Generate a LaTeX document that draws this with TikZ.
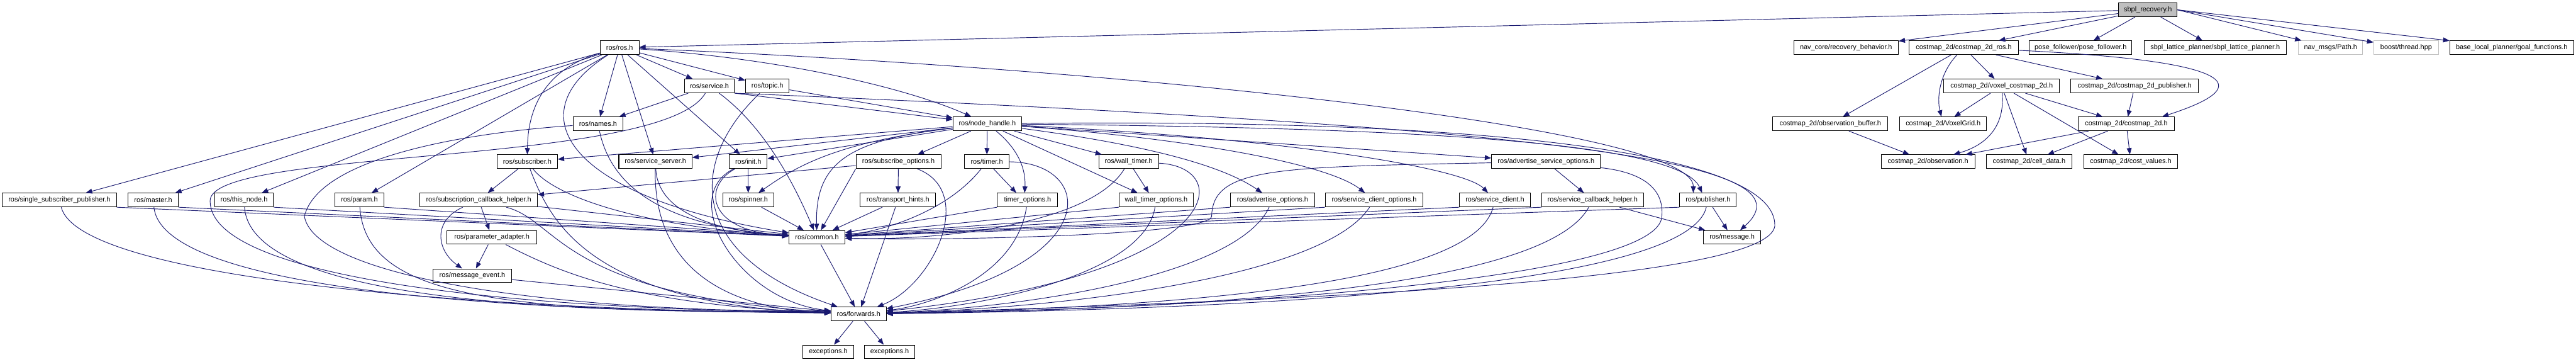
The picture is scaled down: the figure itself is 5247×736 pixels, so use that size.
\documentclass[tikz,border=0pt]{standalone}
\usepackage{fontspec}
\setmainfont{Liberation Sans}
\usetikzlibrary{arrows.meta}
\definecolor{edgec}{HTML}{191970}
\definecolor{rootfill}{HTML}{BFBFBF}
\definecolor{lightb}{HTML}{BFBFBF}
\begin{document}
\begin{tikzpicture}[x=1pt,y=1pt,
  box/.style={draw=black,line width=1.3pt,fill=white,minimum height=28pt,inner sep=0pt,font=\fontsize{14}{16}\selectfont},
  gbox/.style={box,draw=lightb},
  rootbox/.style={box,fill=rootfill},
  e/.style={draw=edgec,line width=1.2pt,-{Triangle[length=13pt,width=10pt]}}]
\useasboundingbox (0,0) rectangle (5247,-736);
\fill[white] (0,0) rectangle (5247,-736);

% ---- nodes
\node[rootbox,minimum width=119pt] (S) at (4375,-20) {sbpl\_recovery.h};
\node[box,minimum width=79pt] (R) at (1262,-97) {ros/ros.h};
\node[box,minimum width=213pt] (NC) at (3760,-97) {nav\_core/recovery\_behavior.h};
\node[box,minimum width=222pt] (CR) at (4000,-97) {costmap\_2d/costmap\_2d\_ros.h};
\node[box,minimum width=209pt] (PF) at (4238,-97) {pose\_follower/pose\_follower.h};
\node[box,minimum width=290pt] (SP) at (4512,-97) {sbpl\_lattice\_planner/sbpl\_lattice\_planner.h};
\node[gbox,minimum width=131pt] (NP) at (4747,-97) {nav\_msgs/Path.h};
\node[gbox,minimum width=132pt] (BT) at (4901,-97) {boost/thread.hpp};
\node[box,minimum width=252pt] (GF) at (5116,-97) {base\_local\_planner/goal\_functions.h};

\node[box,minimum width=102pt] (SERVICE) at (1445,-175) {ros/service.h};
\node[box,minimum width=89pt] (TOPIC) at (1563,-175) {ros/topic.h};
\node[box,minimum width=236pt] (VC) at (4077,-175) {costmap\_2d/voxel\_costmap\_2d.h};
\node[box,minimum width=260pt] (CP) at (4348,-175) {costmap\_2d/costmap\_2d\_publisher.h};

\node[box,minimum width=102pt] (NAMES) at (1218,-252) {ros/names.h};
\node[box,minimum width=140pt] (NH) at (2011,-252) {ros/node\_handle.h};
\node[box,minimum width=235pt] (OB) at (3728,-252) {costmap\_2d/observation\_buffer.h};
\node[box,minimum width=177pt] (VG) at (3958,-252) {costmap\_2d/VoxelGrid.h};
\node[box,minimum width=195pt] (C2D) at (4331,-252) {costmap\_2d/costmap\_2d.h};

\node[box,minimum width=123pt] (SUB) at (1074,-329) {ros/subscriber.h};
\node[box,minimum width=149pt] (SS) at (1335,-329) {ros/service\_server.h};
\node[box,minimum width=77pt] (INIT) at (1524,-329) {ros/init.h};
\node[box,minimum width=173pt] (SO) at (1830,-329) {ros/subscribe\_options.h};
\node[box,minimum width=90pt] (TIMER) at (2010,-329) {ros/timer.h};
\node[box,minimum width=122pt] (WT) at (2299,-329) {ros/wall\_timer.h};
\node[box,minimum width=222pt] (ASO) at (3149,-329) {ros/advertise\_service\_options.h};
\node[box,minimum width=191pt] (OBS) at (3927,-329) {costmap\_2d/observation.h};
\node[box,minimum width=175pt] (CD) at (4133,-329) {costmap\_2d/cell\_data.h};
\node[box,minimum width=191pt] (CV) at (4340,-329) {costmap\_2d/cost\_values.h};

\node[box,minimum width=232pt] (SSP) at (121,-407) {ros/single\_subscriber\_publisher.h};
\node[box,minimum width=102pt] (MASTER) at (312,-407) {ros/master.h};
\node[box,minimum width=120pt] (THISNODE) at (497,-407) {ros/this\_node.h};
\node[box,minimum width=100pt] (PARAM) at (732,-407) {ros/param.h};
\node[box,minimum width=239pt] (SCH) at (975,-407) {ros/subscription\_callback\_helper.h};
\node[box,minimum width=104pt] (SPIN) at (1524,-407) {ros/spinner.h};
\node[box,minimum width=154pt] (TH) at (1829,-407) {ros/transport\_hints.h};
\node[box,minimum width=123pt] (TO) at (2093,-407) {timer\_options.h};
\node[box,minimum width=151pt] (WTO) at (2355,-407) {wall\_timer\_options.h};
\node[box,minimum width=171pt] (AO) at (2592,-407) {ros/advertise\_options.h};
\node[box,minimum width=199pt] (SCO) at (2799,-407) {ros/service\_client\_options.h};
\node[box,minimum width=144pt] (SCL) at (3045,-407) {ros/service\_client.h};
\node[box,minimum width=207pt] (SCBH) at (3244,-407) {ros/service\_callback\_helper.h};
\node[box,minimum width=115pt] (PUB) at (3479,-407) {ros/publisher.h};

\node[box,minimum width=183pt] (PA) at (1002,-483) {ros/parameter\_adapter.h};
\node[box,minimum width=114pt] (C) at (1664,-483) {ros/common.h};
\node[box,minimum width=117pt] (MSG) at (3528,-483) {ros/message.h};
\node[box,minimum width=160pt] (ME) at (962,-561) {ros/message\_event.h};
\node[box,minimum width=112pt] (F) at (1749,-639) {ros/forwards.h};
\node[box,minimum width=103pt] (EX1) at (1687,-716) {exceptions.h};
\node[box,minimum width=102pt] (EX2) at (1812,-716) {exceptions.h};

% ---- costmap part
\draw[e] (S) -- (R);
\draw[e] (S) -- (NC);
\draw[e] (S) -- (CR);
\draw[e] (S) -- (PF);
\draw[e] (S) -- (SP);
\draw[e] (S.east) -- (NP);
\draw[e] (S.east) -- (BT);
\draw[e] (S.east) -- (GF);
\draw[e] (CR) -- (OB);
\draw[e] (CR) .. controls (3950,-150) and (3945,-200) .. (VG);
\draw[e] (CR) -- (VC);
\draw[e] (CR) -- (CP);
\draw[e] (CR) .. controls (4680,-130) and (4520,-200) .. ([xshift=-25pt]C2D.north east);
\draw[e] (VC) -- (VG);
\draw[e] (VC) .. controls (4085,-270) and (4030,-300) .. (OBS);
\draw[e] (VC) -- (CD);
\draw[e] (VC) -- (CV);
\draw[e] (VC) -- (C2D);
\draw[e] (CP) -- (C2D);
\draw[e] (OB) -- (OBS);
\draw[e] (C2D) -- (OBS);
\draw[e] (C2D) -- (CD);
\draw[e] (C2D) -- (CV);

% ---- ros/ros.h
\draw[e] (R) -- (SSP);
\draw[e] (R) -- (MASTER);
\draw[e] (R) -- (THISNODE);
\draw[e] (R) -- (PARAM);
\draw[e] (R) .. controls (1110,-140) and (1075,-220) .. (SUB);
\draw[e] (R) -- (NAMES);
\draw[e] (R) -- (SERVICE);
\draw[e] (R) -- (TOPIC);
\draw[e] (R) .. controls (1600,-120) and (1850,-180) .. (NH);
\draw[e] (R) -- (SS);
\draw[e] (R) -- (INIT);
\draw[e] (R) .. controls (1050,-230) and (1150,-400) .. (C);
\draw[e] (R) .. controls (2300,-140) and (3450,-260) .. ([xshift=-30pt]PUB.north);

% ---- service / names / topic
\draw[e] (SERVICE) -- (NAMES);
\draw[e] (SERVICE.south east) -- (NH);
\draw[e] (SERVICE) .. controls (1560,-260) and (1620,-380) .. (C);
\draw[e] (SERVICE.south east) .. controls (3200,-260) and (3700,-330) .. (MSG);
\draw[e] (SERVICE) .. controls (1350,-340) and (420,-300) .. (428,-410) .. controls (430,-560) and (1000,-630) .. (F.176);
\draw[e] (NAMES) .. controls (1245,-380) and (1350,-460) .. (C);
\draw[e] (NAMES) .. controls (950,-270) and (650,-320) .. (620,-440) .. controls (640,-560) and (1100,-635) .. (F.174);
\draw[e] (TOPIC) -- (NH);
\draw[e] (TOPIC) .. controls (1400,-330) and (1400,-520) .. (F);

% ---- node_handle
\draw[e] (NH) -- (SUB);
\draw[e] (NH) -- (SS);
\draw[e] (NH) -- (INIT);
\draw[e] (NH) .. controls (1700,-290) and (1620,-340) .. (SPIN);
\draw[e] (NH) .. controls (1730,-285) and (1660,-330) .. (C);
\draw[e] (NH) -- ([xshift=39pt]SO.north);
\draw[e] (NH) -- (TIMER);
\draw[e] (NH) .. controls (2070,-300) and (2090,-340) .. ([xshift=-6pt]TO.north);
\draw[e] (NH) -- (WT);
\draw[e] (NH) -- ([xshift=-38pt]WTO.north);
\draw[e] (NH) .. controls (2300,-290) and (2480,-330) .. (AO);
\draw[e] (NH) -- (ASO);
\draw[e] (NH) .. controls (2400,-280) and (2700,-330) .. (SCO);
\draw[e] (NH) .. controls (2600,-280) and (2980,-340) .. (SCL);
\draw[e] (NH) .. controls (2900,-260) and (3420,-290) .. ([xshift=-12pt]PUB.north);
\draw[e] (NH) .. controls (3100,-240) and (3620,-320) .. (3615,-460) .. controls (3600,-570) and (2700,-610) .. (F);

% ---- row E right
\draw[e] (SO) -- (SCH);
\draw[e] (SO) -- (TH);
\draw[e] (SO.south west) -- (C);
\draw[e] (SO) .. controls (1990,-390) and (1900,-580) .. (F);
\draw[e] (TIMER) -- ([xshift=-23pt]TO.north);
\draw[e] (TIMER) .. controls (1930,-430) and (1800,-470) .. (C);
\draw[e] (TIMER) .. controls (2230,-330) and (2260,-540) .. (F);
\draw[e] (WT) -- ([xshift=-15pt]WTO.north);
\draw[e] (WT) .. controls (2220,-460) and (1900,-490) .. (C);
\draw[e] (WT) .. controls (2520,-340) and (2500,-560) .. (F);
\draw[e] (ASO) -- (SCBH);
\draw[e] (ASO) .. controls (2600,-340) and (2470,-340) .. (2468,-440) .. controls (2466,-480) and (1900,-490) .. (C);
\draw[e] (ASO) .. controls (3340,-350) and (3390,-380) .. (3385,-440) .. controls (3380,-560) and (2600,-625) .. (F);

% ---- row F right
\draw[e] (TH) -- (C);
\draw[e] (TH) -- (F);
\draw[e] (TO.south west) -- (C);
\draw[e] (TO) .. controls (2070,-560) and (1900,-620) .. (F);
\draw[e] (WTO.south west) -- (C);
\draw[e] (WTO) .. controls (2330,-560) and (2000,-625) .. (F);
\draw[e] (AO.south west) -- (C);
\draw[e] (AO) .. controls (2520,-560) and (2100,-625) .. (F);
\draw[e] (SCO.south west) -- (C);
\draw[e] (SCO) .. controls (2700,-560) and (2200,-625) .. (F);
\draw[e] (SCL.south west) -- (C);
\draw[e] (SCL) .. controls (3000,-580) and (2400,-625) .. (F);
\draw[e] (SCBH) -- (MSG);
\draw[e] (SCBH.south west) -- (C);
\draw[e] (SCBH) .. controls (3150,-580) and (2500,-628) .. (F);
\draw[e] (PUB) -- (MSG);
\draw[e] (PUB.south west) -- (C);
\draw[e] (PUB) .. controls (3440,-570) and (2700,-628) .. (F);

% ---- row F left
\draw[e] (SSP.south east) -- (C);
\draw[e] (SSP) .. controls (160,-560) and (900,-630) .. (F.178);
\draw[e] (MASTER.south east) -- (C);
\draw[e] (MASTER) .. controls (330,-580) and (950,-635) .. (F.177);
\draw[e] (THISNODE.south east) -- (C);
\draw[e] (THISNODE) .. controls (510,-590) and (1000,-640) .. (F.175);
\draw[e] (PARAM.south east) -- (C);
\draw[e] (PARAM) .. controls (745,-600) and (1000,-640) .. (F.173);

% ---- subscriber family
\draw[e] (SUB) -- (SCH);
\draw[e] (SUB) .. controls (1130,-400) and (1300,-460) .. (C);
\draw[e] (SUB) .. controls (1120,-450) and (1200,-620) .. (F);
\draw[e] (SCH) -- (PA);
\draw[e] (SCH) .. controls (880,-450) and (890,-510) .. (ME);
\draw[e] (SCH) -- (C);
\draw[e] (SCH) .. controls (1140,-450) and (1140,-600) .. (F);
\draw[e] (PA) -- (ME);
\draw[e] (PA) .. controls (1150,-560) and (1300,-620) .. (F);
\draw[e] (ME) -- (F);

% ---- service server, init, spinner
\draw[e] (SS) .. controls (1340,-430) and (1450,-470) .. (C);
\draw[e] (SS) .. controls (1330,-560) and (1500,-630) .. (F);
\draw[e] (INIT) -- (SPIN);
\draw[e] (INIT) .. controls (1430,-380) and (1440,-470) .. (C);
\draw[e] (INIT) .. controls (1380,-400) and (1500,-610) .. (F);
\draw[e] (SPIN) -- (C);

% ---- common, forwards
\draw[e] (C) -- (F);
\draw[e] (F) -- (EX1);
\draw[e] (F) -- (EX2);
\end{tikzpicture}
\end{document}
